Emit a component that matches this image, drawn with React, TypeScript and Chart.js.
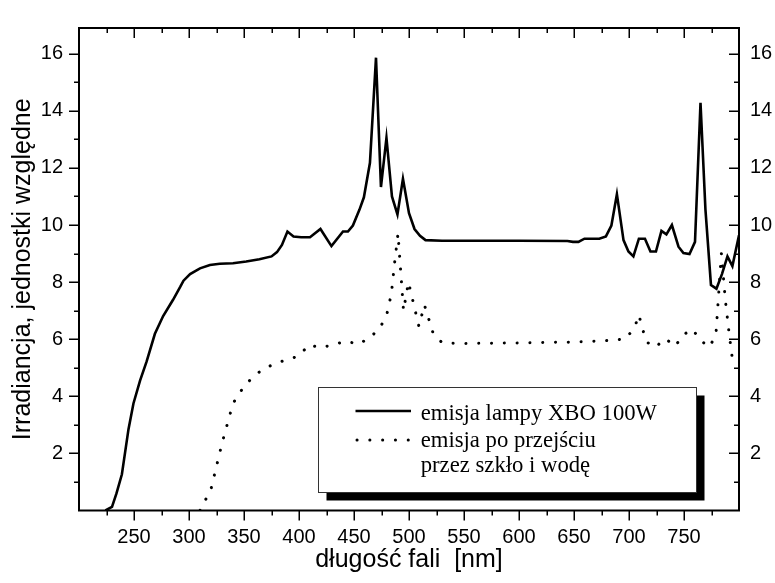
import React, { useEffect, useRef } from 'react';
import { Chart, registerables } from 'chart.js';

Chart.register(...registerables);

// ---- data ----
const lampWavelengths = [224, 230, 234, 239, 245, 249.5, 255.5, 261.5, 269, 276.5, 285.5, 292, 295, 301, 310, 319, 328, 340, 352, 364, 375, 380, 384.5, 389.5, 395, 402, 410, 419.5, 429.5, 440, 444.5, 449, 455, 459, 464.5, 470, 474.5, 479.5, 484.5, 489.5, 494.5, 500, 505, 510, 515, 530, 600, 644, 649, 654, 659.5, 673, 679, 684, 689, 695, 699.5, 704, 709, 714.5, 719.5, 724.5, 729.5, 734, 739, 745, 749.5, 755, 760, 765, 769.5, 774.5, 779.5, 784.5, 789.5, 794, 800];
const lampValues = [0, 0.13, 0.59, 1.27, 2.85, 3.75, 4.55, 5.22, 6.19, 6.81, 7.38, 7.83, 8.05, 8.28, 8.48, 8.6, 8.64, 8.66, 8.72, 8.8, 8.9, 9.05, 9.3, 9.77, 9.6, 9.57, 9.57, 9.86, 9.26, 9.77, 9.77, 9.98, 10.54, 10.97, 12.18, 15.86, 11.33, 13.05, 11.0, 10.37, 11.62, 10.41, 9.86, 9.62, 9.47, 9.45, 9.45, 9.44, 9.41, 9.41, 9.52, 9.52, 9.6, 9.98, 11.08, 9.47, 9.07, 8.9, 9.52, 9.52, 9.07, 9.07, 9.79, 9.67, 10.0, 9.24, 9.02, 8.98, 9.41, 14.28, 10.54, 7.9, 7.77, 8.28, 8.9, 8.56, 9.64];

const filteredWavelengths = [310, 320, 330, 340, 350, 360, 370, 380, 390, 400, 409, 420, 432, 443, 454, 465, 474, 480, 484, 487, 490, 495, 499.5, 509, 514, 522, 530, 545, 600, 650, 685, 697, 705, 709, 712, 716, 724, 733, 742, 749, 758, 764, 773, 779, 784, 787.5, 791, 795];
const filteredValues = [0, 0.75, 2.35, 3.75, 4.35, 4.75, 5.0, 5.18, 5.28, 5.42, 5.8, 5.7, 5.82, 5.93, 5.82, 6.07, 6.42, 6.9, 7.6, 8.7, 9.7, 7.0, 8.0, 6.45, 7.2, 6.2, 5.88, 5.85, 5.87, 5.9, 5.96, 6.02, 6.4, 6.85, 6.4, 5.9, 5.72, 6.02, 5.75, 6.15, 6.35, 5.99, 5.72, 6.15, 9.0, 7.4, 6.2, 5.0];

const seriesLabels = ['emisja lampy XBO 100W', ['emisja po przejściu', 'przez szkło i wodę']];
const xTitle = 'długość fali  [nm]';
const yTitle = 'Irradiancja, jednostki względne';

const xMajorTicks = [250, 300, 350, 400, 450, 500, 550, 600, 650, 700, 750];
const xMinorTicks = [225, 275, 325, 375, 425, 475, 525, 575, 625, 675, 725, 775];
const yMajorTicks = [2, 4, 6, 8, 10, 12, 14, 16];
const yMinorTicks = [1, 3, 5, 7, 9, 11, 13, 15];

const X_MIN = 200;
const X_MAX = 800;
const Y_MIN = 0;
const Y_MAX = 16.9;

const SANS = '"Liberation Sans", Arial, sans-serif';
const SERIF = '"Liberation Serif", "Times New Roman", serif';

const framePlugin = {
  id: 'frameAndLegend',
  afterDraw(chart: any) {
    const { ctx, chartArea, scales } = chart;
    const { left, right, top, bottom } = chartArea;
    const x = scales.x;
    const y = scales.y;
    ctx.save();
    ctx.strokeStyle = '#000';
    ctx.lineCap = 'butt';

    // ticks
    ctx.lineWidth = 1.5;
    const drawX = (vals: number[], len: number) => {
      for (const v of vals) {
        const px = Math.round(x.getPixelForValue(v)) + 0.25;
        ctx.beginPath();
        ctx.moveTo(px, bottom);
        ctx.lineTo(px, bottom + len); // outward at bottom
        ctx.moveTo(px, top);
        ctx.lineTo(px, top + len); // inward at top
        ctx.stroke();
      }
    };
    const drawY = (vals: number[], len: number) => {
      for (const v of vals) {
        const py = Math.round(y.getPixelForValue(v)) + 0.25;
        ctx.beginPath();
        ctx.moveTo(left, py);
        ctx.lineTo(left - len, py); // outward at left
        ctx.moveTo(right, py);
        ctx.lineTo(right - len, py); // inward at right
        ctx.stroke();
      }
    };
    drawX(xMajorTicks, 10);
    drawX(xMinorTicks, 5);
    drawY(yMajorTicks, 10);
    drawY(yMinorTicks, 5);

    // frame
    ctx.lineWidth = 2;
    ctx.strokeRect(left, top, right - left, bottom - top);

    // legend box with shadow
    const bx = 318.5, by = 387.5, bw = 378, bh = 105;
    ctx.fillStyle = '#000';
    ctx.fillRect(bx + 8, by + 8, bw, bh);
    ctx.fillStyle = '#fff';
    ctx.fillRect(bx, by, bw, bh);
    ctx.lineWidth = 1;
    ctx.strokeStyle = '#333';
    ctx.strokeRect(bx, by, bw, bh);

    const ds = chart.data.datasets;
    // sample 1
    ctx.strokeStyle = '#000';
    ctx.lineWidth = ds[0].borderWidth;
    ctx.setLineDash([]);
    ctx.beginPath();
    ctx.moveTo(355.5, 411);
    ctx.lineTo(411, 411);
    ctx.stroke();
    // sample 2
    ctx.lineWidth = ds[1].borderWidth;
    ctx.lineCap = 'round';
    ctx.setLineDash(ds[1].borderDash);
    ctx.beginPath();
    ctx.moveTo(357, 440);
    ctx.lineTo(412, 440);
    ctx.stroke();
    ctx.setLineDash([]);

    ctx.fillStyle = '#000';
    ctx.font = `22.7px ${SERIF}`;
    ctx.textAlign = 'left';
    ctx.textBaseline = 'alphabetic';
    const lines: string[] = [];
    for (const d of ds) {
      if (Array.isArray(d.label)) lines.push(...d.label);
      else lines.push(d.label);
    }
    const baselines = [419.5, 446.5, 471.5];
    lines.forEach((t, i) => ctx.fillText(t, 420.7, baselines[i]));
    ctx.restore();
  },
};

export default function App() {
  const canvasRef = useRef<HTMLCanvasElement | null>(null);

  useEffect(() => {
    const canvas = canvasRef.current;
    if (!canvas) return;
    const lampPoints = lampWavelengths.map((w, i) => ({ x: w, y: lampValues[i] }));
    const filteredPoints = filteredWavelengths.map((w, i) => ({ x: w, y: filteredValues[i] }));

    const chart = new Chart(canvas, {
      type: 'line',
      data: {
        datasets: [
          {
            label: seriesLabels[0] as any,
            data: lampPoints,
            borderColor: '#000',
            borderWidth: 2.6,
            pointRadius: 0,
            tension: 0,
            fill: false,
          },
          {
            label: seriesLabels[1] as any,
            data: filteredPoints,
            borderColor: '#000',
            borderWidth: 3,
            borderDash: [0.1, 12.7],
            borderCapStyle: 'round',
            pointRadius: 0,
            tension: 0,
            fill: false,
          },
        ],
      },
      options: {
        responsive: false,
        maintainAspectRatio: false,
        animation: false,
        devicePixelRatio: 1,
        layout: { padding: { top: 13, left: 0, right: 0, bottom: 0 } },
        plugins: { legend: { display: false }, tooltip: { enabled: false } },
        scales: {
          x: {
            type: 'linear',
            position: 'bottom',
            min: X_MIN,
            max: X_MAX,
            afterFit: (s: any) => { s.height = 72.5; },
            grid: { display: false, drawTicks: false },
            border: { display: false },
            ticks: {
              stepSize: 50,
              includeBounds: false,
              autoSkip: false,
              maxRotation: 0,
              padding: 15,
              color: '#000',
              font: { family: SANS, size: 20 },
              callback: (v: any) => (xMajorTicks.includes(Number(v)) ? String(v) : ''),
            },
            title: {
              display: true,
              text: xTitle,
              color: '#000',
              font: { family: SANS, size: 25 },
              padding: { top: 0, bottom: 7.6 },
            },
          },
          y: {
            type: 'linear',
            position: 'left',
            min: Y_MIN,
            max: Y_MAX,
            afterFit: (s: any) => { s.width = 79; },
            grid: { display: false, drawTicks: false },
            border: { display: false },
            ticks: {
              stepSize: 2,
              includeBounds: false,
              padding: 16,
              color: '#000',
              font: { family: SANS, size: 20 },
              callback: (v: any) => (yMajorTicks.includes(Number(v)) ? String(v) : ''),
            },
            title: {
              display: true,
              text: yTitle,
              color: '#000',
              font: { family: SANS, size: 25 },
              padding: { top: 8, bottom: 0 },
            },
          },
          y2: {
            type: 'linear',
            position: 'right',
            min: Y_MIN,
            max: Y_MAX,
            afterFit: (s: any) => { s.width = 36; },
            grid: { display: false, drawTicks: false },
            border: { display: false },
            ticks: {
              stepSize: 2,
              includeBounds: false,
              padding: 11,
              color: '#000',
              font: { family: SANS, size: 20 },
              callback: (v: any) => (yMajorTicks.includes(Number(v)) ? String(v) : ''),
            },
          },
        },
      } as any,
      plugins: [framePlugin],
    });
    return () => chart.destroy();
  }, []);

  return (
    <div style={{ position: 'fixed', left: 0, top: 0, width: 775, height: 583, background: '#fff' }}>
      <canvas ref={canvasRef} width={775} height={583} style={{ display: 'block', width: 775, height: 583 }} />
    </div>
  );
}
